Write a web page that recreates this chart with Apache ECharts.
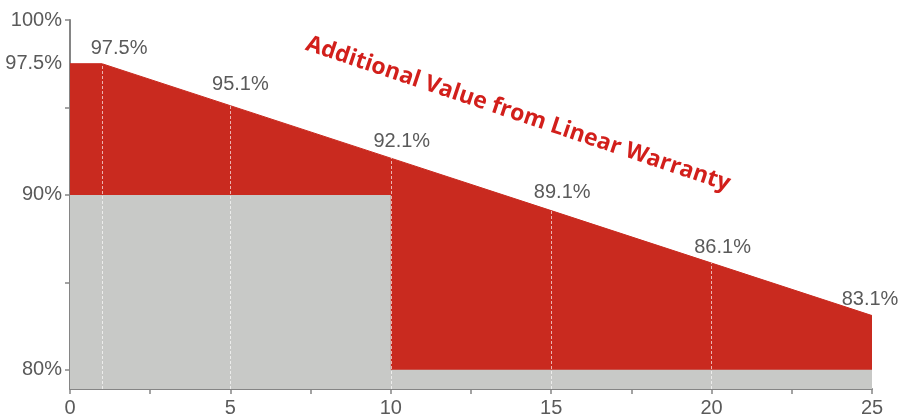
<!DOCTYPE html>
<html>
<head>
<meta charset="utf-8">
<script src="https://cdn.jsdelivr.net/npm/echarts@6/dist/echarts.min.js"></script>
<style>
html,body{margin:0;padding:0;background:#fff;}
#chart{width:906px;height:418px;}
</style>
</head>
<body>
<div id="chart"></div>
<script>
// Data
var years = [0, 1, 5, 10, 15, 20, 25];
var linearWarranty = [97.5, 97.5, 95.1, 92.1, 89.1, 86.1, 83.1];
var stepYears = [0, 10, 10, 25];
var stepWarranty = [90, 90, 80, 80];
var yTickLabels = [80, 90, 97.5, 100];
var yTicks = [80, 85, 90, 95, 100];
var xTickLabels = [0, 5, 10, 15, 20, 25];
var xTicks = [0, 2.5, 5, 7.5, 10, 12.5, 15, 17.5, 20, 22.5, 25];
var annotation = 'Additional Value from Linear Warranty';

var Y_MIN = 78.9, Y_MAX = 100;
var RED = '#c92a1f', GRAY = '#c8c9c7', TXT = '#5a5a5a';

// label offsets per point (style only)
var labelOffsets = {1: [17, 0], 2: [10, -6], 3: [11, -2], 4: [11, -3], 5: [11, -1], 6: [-2, -1]};

var redData = years.map(function (x, i) {
  var item = {value: [x, linearWarranty[i]]};
  if (labelOffsets[i]) {
    item.label = {show: true, offset: labelOffsets[i]};
  }
  return item;
});
var grayData = stepYears.map(function (x, i) { return [x, stepWarranty[i]]; });

var vLines = [];
years.forEach(function (x, i) {
  if (x > 0 && x < 25) {
    vLines.push([{coord: [x, Y_MIN]}, {coord: [x, linearWarranty[i]]}]);
  }
});

var chart = echarts.init(document.getElementById('chart'));
chart.setOption({
  animation: false,
  grid: {left: 70, right: 34, top: 20, bottom: 29},
  xAxis: {
    type: 'value', min: 0, max: 25,
    axisLine: {show: true, lineStyle: {color: '#858585', width: 2}},
    axisTick: {show: true, length: 5, customValues: xTicks, lineStyle: {color: '#858585', width: 1.5}},
    axisLabel: {customValues: xTickLabels, color: TXT, fontSize: 20, fontFamily: 'Liberation Sans', margin: 9},
    splitLine: {show: false}
  },
  yAxis: {
    type: 'value', min: Y_MIN, max: Y_MAX,
    axisLine: {show: true, lineStyle: {color: '#858585', width: 2}},
    axisTick: {show: true, length: 5, customValues: yTicks, lineStyle: {color: '#858585', width: 1.5}},
    axisLabel: {
      customValues: yTickLabels, color: TXT, fontSize: 20, fontFamily: 'Liberation Sans', margin: 8,
      formatter: function (v) { return v + '%'; }
    },
    splitLine: {show: false}
  },
  series: [
    {
      type: 'line', z: 2, data: redData,
      symbol: 'circle', symbolSize: 0.1, showSymbol: true,
      itemStyle: {color: RED},
      lineStyle: {color: RED, width: 1},
      areaStyle: {color: RED, opacity: 1, origin: 'start'},
      label: {show: false, position: 'top', distance: 5, color: TXT, fontSize: 20, fontFamily: 'Liberation Sans',
        formatter: function (p) { return p.value[1].toFixed(1) + '%'; }}
    },
    {
      type: 'line', z: 3, data: grayData,
      symbol: 'none',
      lineStyle: {width: 0, color: GRAY},
      areaStyle: {color: GRAY, opacity: 1, origin: 'start'}
    },
    {
      type: 'line', z: 5, data: [],
      markLine: {
        silent: true, symbol: 'none', label: {show: false},
        lineStyle: {color: 'rgba(255,255,255,0.65)', width: 1, type: [3, 2]},
        data: vLines
      }
    }
  ],
  graphic: [{
    type: 'text', x: 518, y: 114, rotation: -18.5 * Math.PI / 180, z: 10,
    style: {
      text: annotation, fill: '#d21f1b', font: 'bold 23px "Open Sans"',
      align: 'center', verticalAlign: 'middle'
    }
  }]
});
</script>
</body>
</html>
